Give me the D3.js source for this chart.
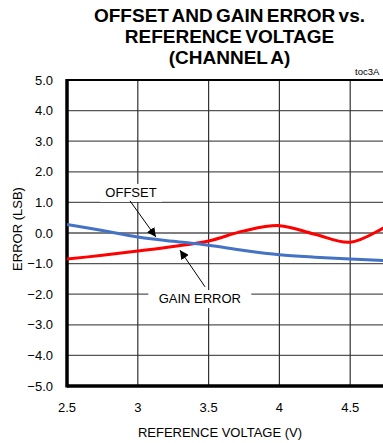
<!DOCTYPE html>
<html>
<head>
<meta charset="utf-8">
<script src="https://cdn.jsdelivr.net/npm/d3@7"></script>
<style>
html,body{margin:0;padding:0;background:#fff;}
svg{display:block;font-family:"Liberation Sans",Arial,sans-serif;}
</style>
</head>
<body>
<script>
// ---- data ----
const voltage   = [2.5, 2.75, 3.0, 3.25, 3.5, 3.75, 4.0, 4.25, 4.5, 4.75, 5.0];
const offsetErr = [0.28, 0.08, -0.13, -0.27, -0.40, -0.57, -0.71, -0.79, -0.85, -0.90, -0.93];
const gainErr   = [-0.85, -0.73, -0.59, -0.44, -0.26, 0.07, 0.24, -0.04, -0.30, 0.20, 0.85];
const xTicks = [2.5, 3, 3.5, 4, 4.5];
const yTicks = [-5, -4, -3, -2, -1, 0, 1, 2, 3, 4, 5];
const titleLines = ["OFFSET AND GAIN ERROR vs.", "REFERENCE VOLTAGE", "(CHANNEL A)"];

const W = 383, H = 443;
const svg = d3.select("body").append("svg").attr("width", W).attr("height", H);

const x = d3.scaleLinear().domain([2.5, 5]).range([67, 421]);
const y = d3.scaleLinear().domain([-5, 5]).range([386, 80]);

// title
svg.append("g").selectAll("text").data(titleLines).join("text")
  .attr("x", 229.5).attr("y", (d, i) => 22 + i * 21)
  .attr("text-anchor", "middle").attr("font-weight", "bold").attr("font-size", 19)
  .attr("word-spacing", -2)
  .attr("fill", "#000").text(d => d);

svg.append("text").attr("x", 355).attr("y", 75).attr("font-size", 9.5).text("toc3A");

// grid
const grid = svg.append("g");
grid.selectAll("line.h").data(yTicks.filter(d => d > -5 && d < 5)).join("line")
  .attr("x1", x(2.5)).attr("x2", x(5)).attr("y1", d => y(d)).attr("y2", d => y(d))
  .attr("stroke", "#555").attr("stroke-width", 1.3);
grid.selectAll("line.v").data(xTicks.filter(d => d > 2.5)).join("line")
  .attr("x1", d => x(d)).attr("x2", d => x(d)).attr("y1", y(5)).attr("y2", y(-5))
  .attr("stroke", "#333").attr("stroke-width", 1.2);

// frame
svg.append("line").attr("x1", x(2.5)).attr("x2", x(5)).attr("y1", y(5)).attr("y2", y(5))
  .attr("stroke", "#000").attr("stroke-width", 2);
svg.append("line").attr("x1", x(2.5)).attr("x2", x(5)).attr("y1", y(-5)).attr("y2", y(-5))
  .attr("stroke", "#000").attr("stroke-width", 3.5);
svg.append("line").attr("x1", x(2.5)).attr("x2", x(2.5)).attr("y1", y(5) - 1).attr("y2", y(-5) + 1.5)
  .attr("stroke", "#000").attr("stroke-width", 3.5);

// tick labels
svg.append("g").selectAll("text").data(yTicks).join("text")
  .attr("x", 53).attr("y", d => y(d) + 4.5).attr("text-anchor", "end")
  .attr("font-size", 13).text(d => d3.format(".1f")(d));
svg.append("g").selectAll("text").data(xTicks).join("text")
  .attr("x", d => x(d)).attr("y", 412).attr("text-anchor", "middle")
  .attr("font-size", 13).text(d => String(d));

svg.append("text").attr("x", 220).attr("y", 437).attr("text-anchor", "middle")
  .attr("font-size", 13).text("REFERENCE VOLTAGE (V)");
svg.append("text").attr("transform", "translate(22,229) rotate(-90)").attr("text-anchor", "middle")
  .attr("font-size", 13).text("ERROR (LSB)");

// curves
svg.append("clipPath").attr("id", "pc").append("rect")
  .attr("x", x(2.5)).attr("y", y(5)).attr("width", x(5) - x(2.5)).attr("height", y(-5) - y(5));
const line = d3.line().x(d => x(d[0])).y(d => y(d[1])).curve(d3.curveCatmullRom.alpha(0.5));
const plot = svg.append("g").attr("clip-path", "url(#pc)");
plot.append("path").datum(voltage.map((v, i) => [v, gainErr[i]]))
  .attr("d", line).attr("fill", "none").attr("stroke", "#ff0000").attr("stroke-width", 3);
plot.append("path").datum(voltage.map((v, i) => [v, offsetErr[i]]))
  .attr("d", line).attr("fill", "none").attr("stroke", "#4472c4").attr("stroke-width", 3);

// annotations
const defs = svg.append("defs");
defs.append("marker").attr("id", "ah").attr("viewBox", "0 0 10 10").attr("refX", 10).attr("refY", 5)
  .attr("markerWidth", 9).attr("markerHeight", 9).attr("markerUnits", "userSpaceOnUse").attr("orient", "auto")
  .append("path").attr("d", "M0,0 L10,5 L0,10 z").attr("fill", "#000");

function label(txt, cx, by, bw) {
  svg.append("rect").attr("x", x(cx) - bw / 2).attr("y", y(by) - 13).attr("width", bw).attr("height", 18)
    .attr("fill", "#fff");
  svg.append("text").attr("x", x(cx)).attr("y", y(by)).attr("text-anchor", "middle")
    .attr("font-size", 13).text(txt);
}
label("OFFSET", 2.952, 1.18, 62);
label("GAIN ERROR", 3.438, -2.29, 103);
svg.append("line").attr("x1", x(2.945)).attr("y1", y(1.05)).attr("x2", x(3.128)).attr("y2", y(-0.13))
  .attr("stroke", "#000").attr("stroke-width", 1).attr("marker-end", "url(#ah)");
svg.append("line").attr("x1", x(3.475)).attr("y1", y(-1.76)).attr("x2", x(3.298)).attr("y2", y(-0.56))
  .attr("stroke", "#000").attr("stroke-width", 1).attr("marker-end", "url(#ah)");
</script>
</body>
</html>
